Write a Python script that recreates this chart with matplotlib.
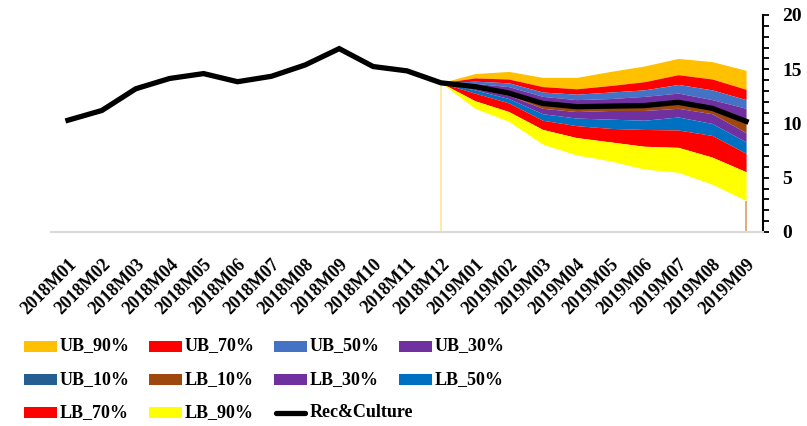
import numpy as np
import matplotlib
matplotlib.use("Agg")
import matplotlib.pyplot as plt
from matplotlib.patches import Rectangle
from matplotlib.lines import Line2D

# Monthly categories
months = ["2018M01", "2018M02", "2018M03", "2018M04", "2018M05", "2018M06",
          "2018M07", "2018M08", "2018M09", "2018M10", "2018M11", "2018M12",
          "2019M01", "2019M02", "2019M03", "2019M04", "2019M05", "2019M06",
          "2019M07", "2019M08", "2019M09"]

# Recreation & Culture series (history + central forecast)
rec_culture = [10.3, 11.2, 13.2, 14.15, 14.6, 13.85, 14.35, 15.4, 16.9, 15.25,
               14.85, 13.75, 13.4, 12.8, 11.85, 11.55, 11.6, 11.65, 11.95, 11.4, 10.2]

# Fan bounds, from 2018M12 to 2019M09
ub_90 = [13.75, 14.6, 14.8, 14.25, 14.25, 14.8, 15.3, 16.0, 15.7, 14.9]
ub_70 = [13.75, 14.2, 14.1, 13.4, 13.2, 13.5, 13.85, 14.5, 14.1, 13.15]
ub_50 = [13.75, 13.9, 13.75, 12.9, 12.7, 12.9, 13.1, 13.6, 13.1, 12.2]
ub_30 = [13.75, 13.7, 13.4, 12.5, 12.2, 12.3, 12.5, 12.8, 12.2, 11.4]
ub_10 = [13.75, 13.55, 12.95, 12.0, 11.7, 11.75, 11.8, 12.1, 11.55, 10.35]
lb_10 = [13.75, 13.2, 12.6, 11.4, 11.1, 11.2, 11.2, 11.4, 10.9, 9.15]
lb_30 = [13.75, 13.1, 12.3, 10.9, 10.5, 10.4, 10.3, 10.6, 10.0, 8.3]
lb_50 = [13.75, 12.8, 11.9, 10.3, 9.8, 9.55, 9.45, 9.4, 8.9, 7.25]
lb_70 = [13.75, 12.1, 11.1, 9.45, 8.7, 8.3, 7.9, 7.8, 6.9, 5.55]
lb_90 = [13.75, 11.4, 10.2, 8.1, 7.1, 6.55, 5.8, 5.5, 4.4, 2.9]

fan_start = months.index("2018M12")
center = rec_culture[fan_start:]

bands = [
    ("UB_90%", ub_90, ub_70, "#FFC000"),
    ("UB_70%", ub_70, ub_50, "#FF0000"),
    ("UB_50%", ub_50, ub_30, "#4472C4"),
    ("UB_30%", ub_30, ub_10, "#7030A0"),
    ("UB_10%", ub_10, center, "#255E91"),
    ("LB_10%", center, lb_10, "#9E480E"),
    ("LB_30%", lb_10, lb_30, "#7030A0"),
    ("LB_50%", lb_30, lb_50, "#0070C0"),
    ("LB_70%", lb_50, lb_70, "#FF0000"),
    ("LB_90%", lb_70, lb_90, "#FFFF00"),
]

plt.rcParams["font.family"] = ["Liberation Serif", "DejaVu Serif"]
plt.rcParams["font.weight"] = "bold"

W, H = 807, 426
fig = plt.figure(figsize=(W / 100, H / 100), dpi=100)
ax = fig.add_axes([0.0632, 0.4554, 0.8823, 0.5094])

x_all = np.arange(len(months))
x_fan = x_all[fan_start:]

for name, upper, lower, color in bands:
    ax.fill_between(x_fan, lower, upper, color=color, linewidth=0, zorder=2)

# edges of the fan area down to the axis
ax.vlines(x_fan[0], 0, lb_90[0], color="#FFE699", linewidth=1.2, zorder=1)
ax.vlines(x_fan[-1], 0, lb_90[-1], color="#D9A066", linewidth=1.2, zorder=1)

ax.plot(x_all, rec_culture, color="black", linewidth=3.8,
        solid_joinstyle="miter", zorder=5)

ax.set_xlim(-0.5, len(months) - 0.5)
ax.set_ylim(0, 20)

# axes styling
for s in ["top", "left"]:
    ax.spines[s].set_visible(False)
ax.spines["bottom"].set_color("#D9D9D9")
ax.spines["bottom"].set_linewidth(1.5)
ax.spines["right"].set_color("black")
ax.spines["right"].set_linewidth(1.5)

ax.yaxis.tick_right()
ax.set_yticks([0, 5, 10, 15, 20])
ax.set_yticks(np.arange(0, 21, 1), minor=True)
ax.tick_params(axis="y", which="both", direction="out", length=4, width=1.3,
               colors="black", labelsize=14, pad=10)
for lab in ax.get_yticklabels():
    lab.set_fontweight("bold")

ax.set_xticks(x_all)
ax.set_xticklabels(months, rotation=45, ha="right", rotation_mode="anchor",
                   fontsize=13, fontweight="bold")
ax.tick_params(axis="x", length=0, pad=17)

# legend, laid out row by row in a 4-column grid
legend_items = [(n, c) for n, _, _, c in bands] + [("Rec&Culture", None)]
col_x = [24, 149, 274, 399]
row_y = [346, 379.5, 412.5]
handle_w, handle_h = 33, 11
for i, (label, color) in enumerate(legend_items):
    r, c = divmod(i, 4)
    x0, yc = col_x[c], row_y[r]
    if color is not None:
        fig.add_artist(Rectangle((x0 / W, 1 - (yc + handle_h / 2) / H),
                                 handle_w / W, handle_h / H,
                                 transform=fig.transFigure,
                                 facecolor=color, edgecolor="none"))
    else:
        fig.add_artist(Line2D([(x0 + 2) / W, (x0 + handle_w - 2) / W],
                              [1 - yc / H, 1 - yc / H],
                              transform=fig.transFigure, color="black",
                              linewidth=3.8, solid_capstyle="round"))
    fig.text((x0 + handle_w + 3) / W, 1 - yc / H, label, fontsize=13,
             fontweight="bold", ha="left", va="center")

fig.savefig("out.png", dpi=100)
